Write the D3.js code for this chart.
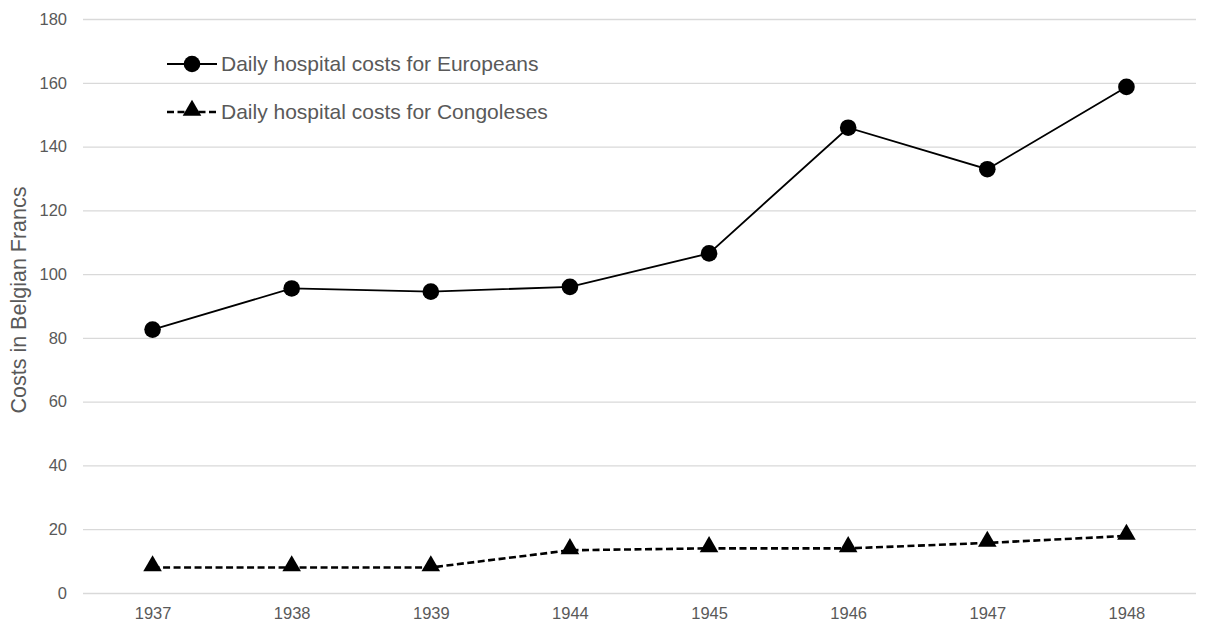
<!DOCTYPE html>
<html>
<head>
<meta charset="utf-8">
<script src="https://cdn.jsdelivr.net/npm/d3@7"></script>
<style>
  html, body { margin: 0; padding: 0; background: #fff; }
  svg { display: block; font-family: "Liberation Sans", Arial, sans-serif; }
</style>
</head>
<body>
<svg id="chart" width="1206" height="626"></svg>
<script>
// Daily hospital costs in the Belgian Congo (Belgian Francs)
const years = ["1937", "1938", "1939", "1944", "1945", "1946", "1947", "1948"];
const europeans = [82.6, 95.5, 94.5, 96, 106.5, 145.9, 132.9, 158.7];
const congolese = [8, 8, 8, 13.4, 14, 14, 15.7, 17.9];
const yTicks = [0, 20, 40, 60, 80, 100, 120, 140, 160, 180];
const seriesNames = ["Daily hospital costs for Europeans", "Daily hospital costs for Congoleses"];

const svg = d3.select("#chart");
const margin = { left: 83, right: 10, top: 19, bottom: 33 };
const W = 1206, H = 626;

const x = d3.scalePoint()
  .domain(years)
  .range([margin.left, W - margin.right])
  .padding(0.5);

const y = d3.scaleLinear()
  .domain([0, 180])
  .range([H - margin.bottom, margin.top]);

const textColor = "#595959";
const tickFont = "16.5px";

// horizontal gridlines and y tick labels
const yAxis = d3.axisLeft(y)
  .tickValues(yTicks)
  .tickSize(-(W - margin.right - margin.left))
  .tickPadding(16);

const gy = svg.append("g")
  .attr("transform", `translate(${margin.left},0)`)
  .call(yAxis);
gy.select(".domain").remove();
gy.selectAll(".tick line").attr("stroke", "#d9d9d9").attr("stroke-width", 1.3);
gy.selectAll(".tick text")
  .attr("fill", textColor)
  .style("font-size", tickFont);

// x axis labels
const xAxis = d3.axisBottom(x).tickSize(0).tickPadding(14);
const gx = svg.append("g")
  .attr("transform", `translate(0,${y(0)})`)
  .call(xAxis);
gx.select(".domain").remove();
gx.selectAll(".tick text")
  .attr("fill", textColor)
  .style("font-size", tickFont);

// y axis title
svg.append("text")
  .attr("transform", `translate(26,300) rotate(-90)`)
  .attr("text-anchor", "middle")
  .attr("fill", textColor)
  .style("font-size", "21.5px")
  .text("Costs in Belgian Francs");

const line = d3.line()
  .x((d, i) => x(years[i]))
  .y(d => y(d));

// Europeans: solid line with circles
svg.append("path")
  .datum(europeans)
  .attr("fill", "none")
  .attr("stroke", "#000")
  .attr("stroke-width", 1.8)
  .attr("d", line);

svg.append("g").selectAll("circle")
  .data(europeans)
  .join("circle")
  .attr("cx", (d, i) => x(years[i]))
  .attr("cy", d => y(d))
  .attr("r", 8.3)
  .attr("fill", "#000");

// Congolese: dashed line with triangles
const dash = "7,3.5";
svg.append("path")
  .datum(congolese)
  .attr("fill", "none")
  .attr("stroke", "#000")
  .attr("stroke-width", 2.6)
  .attr("stroke-dasharray", dash)
  .attr("d", line);

const tri = d3.symbol().type(d3.symbolTriangle).size(150);
svg.append("g").selectAll("path")
  .data(congolese)
  .join("path")
  .attr("d", tri)
  .attr("transform", (d, i) => `translate(${x(years[i])},${y(d) - 1.5})`)
  .attr("fill", "#000");

// legend
const legend = svg.append("g");
const legendRows = [
  { name: seriesNames[0], y: 64, dashed: false },
  { name: seriesNames[1], y: 112, dashed: true }
];
legendRows.forEach(row => {
  legend.append("line")
    .attr("x1", 167).attr("x2", 217)
    .attr("y1", row.y).attr("y2", row.y)
    .attr("stroke", "#000")
    .attr("stroke-width", row.dashed ? 2.6 : 1.8)
    .attr("stroke-dasharray", row.dashed ? dash : null);
  if (row.dashed) {
    legend.append("path")
      .attr("d", tri)
      .attr("transform", `translate(192,${row.y - 1.5})`)
      .attr("fill", "#000");
  } else {
    legend.append("circle")
      .attr("cx", 192).attr("cy", row.y).attr("r", 8.3)
      .attr("fill", "#000");
  }
  legend.append("text")
    .attr("x", 221).attr("y", row.y)
    .attr("dy", "0.35em")
    .attr("fill", textColor)
    .style("font-size", "21px")
    .text(row.name);
});
</script>
</body>
</html>
